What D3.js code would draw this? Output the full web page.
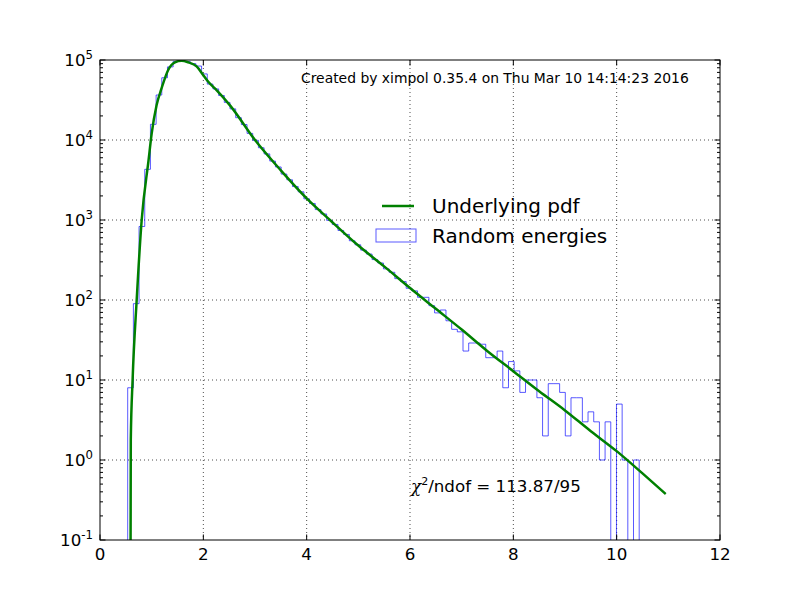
<!DOCTYPE html>
<html>
<head>
<meta charset="utf-8">
<script src="https://cdn.jsdelivr.net/npm/d3@7"></script>
<style>
  body { margin: 0; background: #fff; }
  text { font-family: "DejaVu Sans", sans-serif; fill: #000; }
</style>
</head>
<body>
<svg id="chart" width="800" height="600"></svg>
<script>
// histogram of random energies: first bin edge, bin width, counts per bin
const binStart = 0.536;
const binWidth = 0.11;
const binCounts = [
  8, 90, 830, 4300, 15700, 36500, 60000, 82000, 96000, 99000,
  96000, 90000, 84000, 67000, 50000, 43500, 36000, 29500, 24500, 19000,
  15600, 12100, 9900, 8000, 6700, 5450, 4600, 3750, 3180, 2620,
  2250, 1840, 1610, 1350, 1190, 990, 880, 740, 660, 550,
  490, 420, 375, 320, 290, 245, 222, 185, 170, 140,
  130, 108, 108, 85, 69, 75, 55, 43, 40, 23,
  29, 29, 28, 19, 19, 23, 8, 17, 13, 7,
  10, 10, 6, 2, 9, 9, 7, 2, 6, 6,
  3, 4, 3, 1, 3, 0, 5, 1, 0, 1,
  0, 0, 0, 0, 0, 0
];

// underlying pdf
const pdfEnergy = [0.592, 0.596, 0.631, 0.71, 0.807, 0.94, 1.0, 1.097, 1.194, 1.32,
  1.45, 1.58, 1.71, 1.87, 2.0, 2.1, 2.26, 2.52, 3.0, 3.5,
  4.0, 4.45, 5.0, 5.5, 6.0, 6.5, 7.0, 7.5, 8.0, 8.5,
  9.0, 9.5, 10.0, 10.5, 10.95];
const pdfValue = [0.1, 1.8, 10, 100, 1000, 5600, 12000, 27500, 44700, 75000,
  93300, 97700, 93300, 83200, 64600, 53000, 41700, 26900, 10000, 4170,
  1860, 1000, 479, 263, 141, 77.6, 42.7, 22.9, 12.9, 7.24,
  4.17, 2.29, 1.29, 0.68, 0.376];

const xTicks = [0, 2, 4, 6, 8, 10, 12];
const yTickExps = [-1, 0, 1, 2, 3, 4, 5];

const infoText = "Created by ximpol 0.35.4 on Thu Mar 10 14:14:23 2016";
const chi2Text = "/ndof = 113.87/95";
const legendLabels = ["Underlying pdf", "Random energies"];

const margin = {top: 60, right: 80, bottom: 60, left: 100},
  width = 800 - margin.left - margin.right,
  height = 600 - margin.top - margin.bottom;

const svg = d3.select("#chart");
const g = svg.append("g")
  .attr("transform", `translate(${margin.left}, ${margin.top})`);

const x = d3.scaleLinear().domain([0, 12]).range([0, width]);
const y = d3.scaleLog().domain([0.1, 1e5]).range([height, 0]);

svg.append("defs").append("clipPath").attr("id", "plotClip")
  .append("rect").attr("width", width).attr("height", height);

// grid
const grid = g.append("g")
  .attr("stroke", "#000")
  .attr("stroke-width", 0.7)
  .attr("stroke-dasharray", "1,3");
grid.selectAll(".vgrid").data(xTicks.slice(1, -1)).join("line")
  .attr("x1", d => x(d)).attr("x2", d => x(d))
  .attr("y1", 0).attr("y2", height);
grid.selectAll(".hgrid").data(yTickExps.slice(1, -1)).join("line")
  .attr("y1", d => y(Math.pow(10, d))).attr("y2", d => y(Math.pow(10, d)))
  .attr("x1", 0).attr("x2", width);

// histogram outline (step)
const plot = g.append("g").attr("clip-path", "url(#plotClip)");
const floorVal = 0.01;
const steps = [[binStart, floorVal]];
binCounts.forEach((c, i) => {
  const e0 = binStart + i * binWidth;
  const v = Math.max(c, floorVal);
  steps.push([e0, v], [e0 + binWidth, v]);
});
steps.push([binStart + binCounts.length * binWidth, floorVal]);

plot.append("path")
  .datum(steps)
  .attr("fill", "none")
  .attr("stroke", "#0000ff")
  .attr("stroke-opacity", 0.65)
  .attr("stroke-width", 1)
  .attr("d", d3.line().x(d => x(d[0])).y(d => y(d[1])));

// pdf curve
const pdfPoints = pdfEnergy.map((e, i) => [e, pdfValue[i]]);
plot.append("path")
  .datum(pdfPoints)
  .attr("fill", "none")
  .attr("stroke", "#008000")
  .attr("stroke-width", 2.5)
  .attr("d", d3.line().x(d => x(d[0])).y(d => y(d[1])).curve(d3.curveMonotoneX));

// ticks, inward on all sides
const ticks = g.append("g").attr("stroke", "#000").attr("stroke-width", 1);
const majorLen = 5.5, minorLen = 3;
xTicks.forEach(t => {
  ticks.append("line").attr("x1", x(t)).attr("x2", x(t)).attr("y1", height).attr("y2", height - majorLen);
  ticks.append("line").attr("x1", x(t)).attr("x2", x(t)).attr("y1", 0).attr("y2", majorLen);
});
yTickExps.forEach(p => {
  const yy = y(Math.pow(10, p));
  ticks.append("line").attr("x1", 0).attr("x2", majorLen).attr("y1", yy).attr("y2", yy);
  ticks.append("line").attr("x1", width).attr("x2", width - majorLen).attr("y1", yy).attr("y2", yy);
  if (p < 5) {
    for (let m = 2; m <= 9; m++) {
      const ym = y(m * Math.pow(10, p));
      ticks.append("line").attr("x1", 0).attr("x2", minorLen).attr("y1", ym).attr("y2", ym);
      ticks.append("line").attr("x1", width).attr("x2", width - minorLen).attr("y1", ym).attr("y2", ym);
    }
  }
});

// frame
g.append("rect").attr("width", width).attr("height", height)
  .attr("fill", "none").attr("stroke", "#000").attr("stroke-width", 1);

// tick labels
g.selectAll(".xlab").data(xTicks).join("text")
  .attr("x", d => x(d)).attr("y", height + 20)
  .attr("text-anchor", "middle")
  .style("font-size", "16.7px")
  .text(d => d);

const ylab = g.selectAll(".ylab").data(yTickExps).join("text")
  .attr("x", -7).attr("y", d => y(Math.pow(10, d)) + 6)
  .attr("text-anchor", "end")
  .style("font-size", "16.7px");
ylab.append("tspan").text("10");
ylab.append("tspan").attr("dy", -7).style("font-size", "11.7px").text(d => d);

// info text
g.append("text")
  .attr("x", 201).attr("y", 23)
  .style("font-size", "13.9px")
  .text(infoText);

// chi2 text
const chi = g.append("text")
  .attr("x", 311).attr("y", 432)
  .style("font-size", "16.7px");
chi.append("tspan").style("font-family", "'DejaVu Serif', serif").style("font-style", "italic").text("\u03c7");
chi.append("tspan").attr("dy", -7).style("font-size", "11px").text("2");
chi.append("tspan").attr("dy", 7).text(chi2Text);

// legend
const leg = g.append("g");
leg.append("line")
  .attr("x1", 282).attr("x2", 314).attr("y1", 146).attr("y2", 146)
  .attr("stroke", "#008000").attr("stroke-width", 2.5);
leg.append("rect")
  .attr("x", 276).attr("y", 169).attr("width", 40).attr("height", 13)
  .attr("fill", "none").attr("stroke", "#0000ff").attr("stroke-opacity", 0.65);
leg.selectAll(".ltext").data(legendLabels).join("text")
  .attr("x", 332).attr("y", (d, i) => 153 + i * 30)
  .style("font-size", "20px")
  .text(d => d);
</script>
</body>
</html>
